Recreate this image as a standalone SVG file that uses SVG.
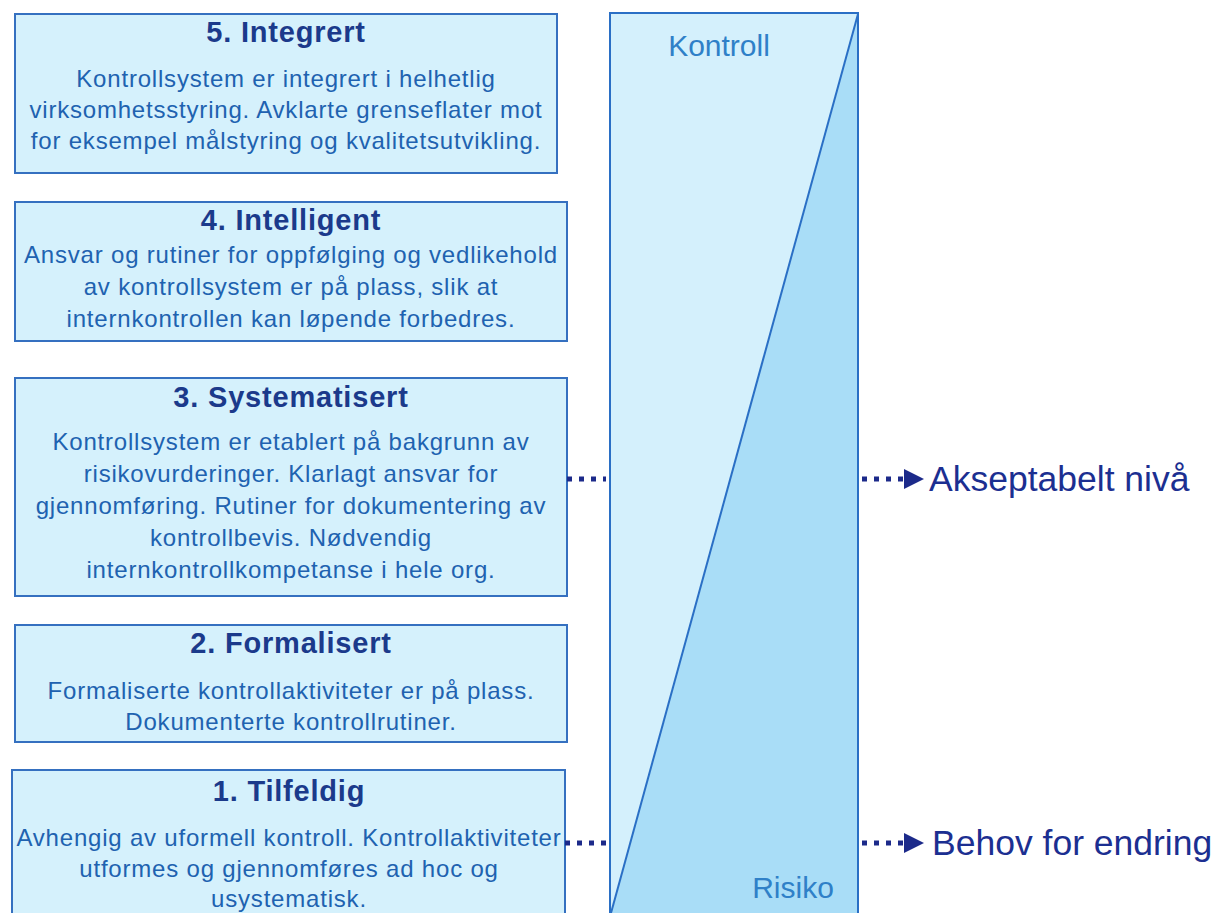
<svg xmlns="http://www.w3.org/2000/svg" width="1219" height="913" viewBox="0 0 1219 913">
<defs>
<style>
.box{fill:#d5f1fc;stroke:#3570c0;stroke-width:2}
.t{font-family:"Liberation Sans",Arial,sans-serif;font-weight:bold;font-size:29px;letter-spacing:0.8px;fill:#1b3a8b;text-anchor:middle}
.b{font-family:"Liberation Sans",Arial,sans-serif;font-size:24px;letter-spacing:0.8px;fill:#2062b0;text-anchor:middle}
.s{font-family:"Liberation Sans",Arial,sans-serif;font-size:30px;fill:#2f80c8;text-anchor:middle}
.lab{font-family:"Liberation Sans",Arial,sans-serif;font-size:35.5px;fill:#1c2f91}
.dot{stroke:#1c2a8a;stroke-width:5;stroke-dasharray:5 7;fill:none}
</style>
<marker id="ah" viewBox="0 0 10 10" refX="0" refY="5" markerWidth="4" markerHeight="4" orient="auto" markerUnits="strokeWidth">
<path d="M0,0 L10,5 L0,10 Z" fill="#1c2a8a"/>
</marker>
</defs>
<rect width="1219" height="913" fill="#ffffff"/>

<g id="level5">
<rect class="box" x="15" y="14" width="542" height="159"/>
<text class="t" x="286" y="42">5. Integrert</text>
<text class="b" x="286" y="87">Kontrollsystem er integrert i helhetlig</text>
<text class="b" x="286" y="118">virksomhetsstyring. Avklarte grenseflater mot</text>
<text class="b" x="286" y="149">for eksempel målstyring og kvalitetsutvikling.</text>
</g>

<g id="level4">
<rect class="box" x="15" y="202" width="552" height="139"/>
<text class="t" x="291" y="230">4. Intelligent</text>
<text class="b" x="291" y="263">Ansvar og rutiner for oppfølging og vedlikehold</text>
<text class="b" x="291" y="295">av kontrollsystem er på plass, slik at</text>
<text class="b" x="291" y="327">internkontrollen kan løpende forbedres.</text>
</g>

<g id="level3">
<rect class="box" x="15" y="378" width="552" height="218"/>
<text class="t" x="291" y="407">3. Systematisert</text>
<text class="b" x="291" y="450">Kontrollsystem er etablert på bakgrunn av</text>
<text class="b" x="291" y="482">risikovurderinger. Klarlagt ansvar for</text>
<text class="b" x="291" y="514">gjennomføring. Rutiner for dokumentering av</text>
<text class="b" x="291" y="546">kontrollbevis. Nødvendig</text>
<text class="b" x="291" y="578">internkontrollkompetanse i hele org.</text>
</g>

<g id="level2">
<rect class="box" x="15" y="625" width="552" height="117"/>
<text class="t" x="291" y="653">2. Formalisert</text>
<text class="b" x="291" y="699">Formaliserte kontrollaktiviteter er på plass.</text>
<text class="b" x="291" y="730">Dokumenterte kontrollrutiner.</text>
</g>

<g id="level1">
<rect class="box" x="12" y="770" width="553" height="150"/>
<text class="t" x="289" y="801">1. Tilfeldig</text>
<text class="b" x="289" y="846">Avhengig av uformell kontroll. Kontrollaktiviteter</text>
<text class="b" x="289" y="877">utformes og gjennomføres ad hoc og</text>
<text class="b" x="289" y="907">usystematisk.</text>
</g>

<g id="scale">
<rect x="610" y="13" width="248" height="910" fill="#d4f0fc" stroke="#2a6fc5" stroke-width="2"/>
<polygon points="858,14 858,923 610,923 612,910" fill="#a9ddf7"/>
<line x1="858" y1="14" x2="611" y2="913" stroke="#2a6fc5" stroke-width="2"/>
<rect x="610" y="13" width="248" height="910" fill="none" stroke="#2a6fc5" stroke-width="2"/>
<text class="s" x="719" y="56">Kontroll</text>
<text class="s" x="793" y="898">Risiko</text>
</g>

<g id="connectors">
<line class="dot" x1="567" y1="479" x2="606" y2="479"/>
<line class="dot" x1="565" y1="843" x2="606" y2="843"/>
<line class="dot" x1="862" y1="479" x2="904" y2="479" marker-end="url(#ah)"/>
<line class="dot" x1="862" y1="843" x2="904" y2="843" marker-end="url(#ah)"/>
</g>

<g id="outcome-accept">
<text class="lab" x="929" y="491">Akseptabelt nivå</text>
</g>
<g id="outcome-change">
<text class="lab" x="932" y="855">Behov for endring</text>
</g>
</svg>
